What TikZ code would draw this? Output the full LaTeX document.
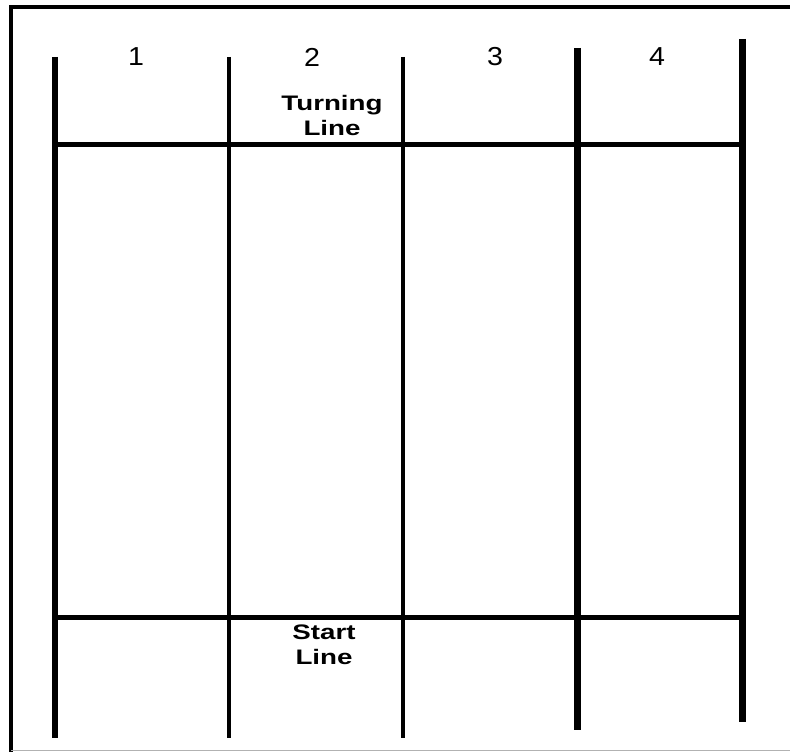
\documentclass[tikz,border=0pt]{standalone}
\usepackage{fontspec}
\setmainfont{Liberation Sans}
\begin{document}
\begin{tikzpicture}[x=1pt,y=-1pt,
  post/.style={line width=5.5pt},
  thinpost/.style={line width=4.5pt},
  track/.style={line width=5pt},
  num/.style={font=\fontsize{26}{28}\selectfont, inner sep=0pt, xscale=1.1},
  lbl/.style={font=\bfseries\fontsize{21}{25}\selectfont, align=center, inner sep=0pt, xscale=1.32}]
\useasboundingbox (0,0) rectangle (790,752);
\fill[white] (0,0) rectangle (790,752);
% frame
\draw[line width=4.5pt] (11,752) -- (11,7) -- (790,7);
\draw[line width=1pt, black!30] (11,750.5) -- (790,750.5);
% posts
\coordinate (p1t) at (55,57);  \coordinate (p1b) at (55,738);
\coordinate (p2t) at (229,57); \coordinate (p2b) at (229,738);
\coordinate (p3t) at (403,57); \coordinate (p3b) at (403,738);
\coordinate (p4t) at (577,48); \coordinate (p4b) at (577,730);
\coordinate (p5t) at (742,39); \coordinate (p5b) at (742,722);
\draw[post] (p1t) -- (p1b);
\draw[thinpost] (p2t) -- (p2b);
\draw[thinpost] (p3t) -- (p3b);
\draw[line width=7pt] (p4t) -- (p4b);
\draw[line width=7pt] (p5t) -- (p5b);
% lines
\coordinate (tl) at (55,144); \coordinate (tr) at (742,144);
\coordinate (sl) at (55,617); \coordinate (sr) at (742,617);
\draw[track] (tl) -- (tr);
\draw[track] (sl) -- (sr);
% labels
\node[num] (n1) at (136,57) {1};
\node[num] (n2) at (312,57) {2};
\node[num] (n3) at (495,57) {3};
\node[num] (n4) at (657,57) {4};
\node[lbl] (turn) at (332,115) {Turning\\Line};
\node[lbl] (start) at (324,645) {Start\\Line};
\end{tikzpicture}
\end{document}
